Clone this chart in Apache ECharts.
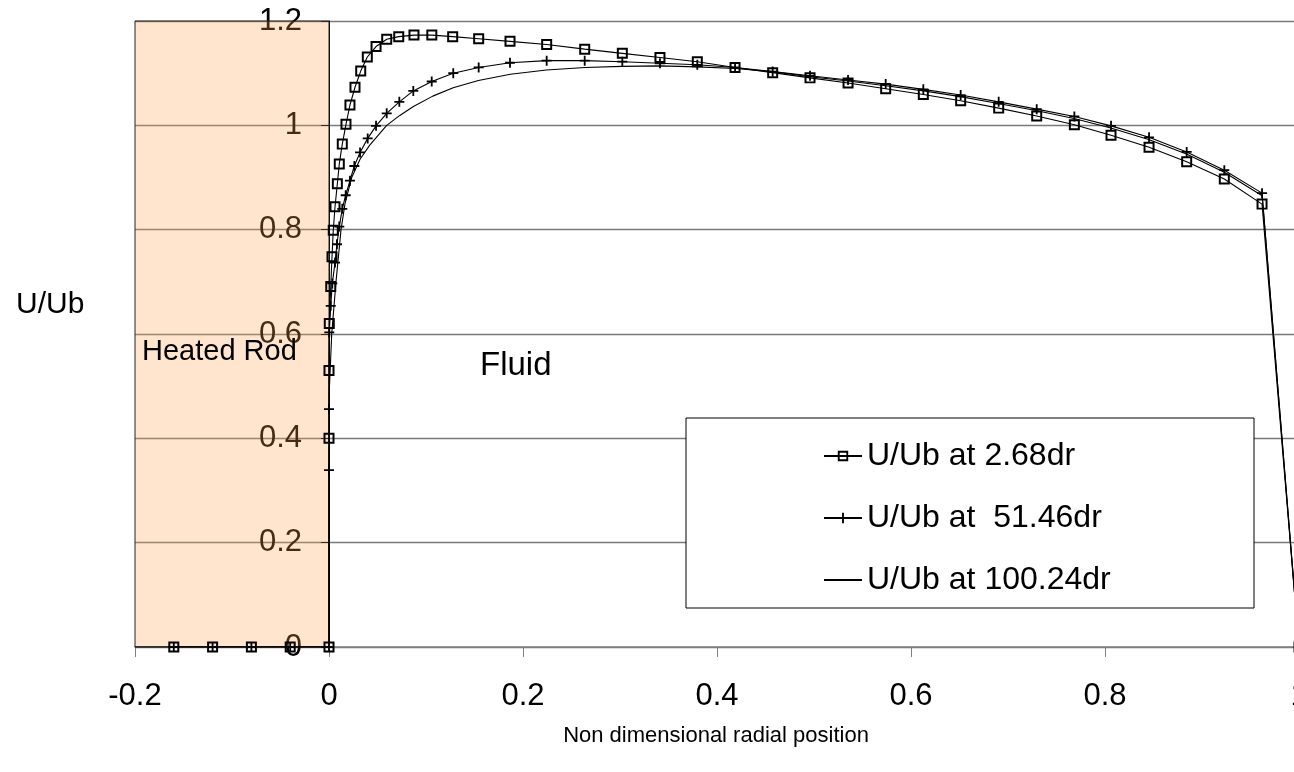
<!DOCTYPE html>
<html>
<head>
<meta charset="utf-8">
<script src="https://cdn.jsdelivr.net/npm/echarts@6/dist/echarts.min.js"></script>
<style>
  html, body { margin: 0; padding: 0; background: #fff; overflow: hidden; }
  #chart { width: 1294px; height: 772px; }
</style>
</head>
<body>
<div id="chart"></div>
<script>
// Velocity profiles U/Ub across the annulus, three axial stations
const xTicks = { min: -0.2, max: 1.0, step: 0.2 };
const yTicks = { min: 0, max: 1.2, step: 0.2 };
const rodRange = [-0.2, 0];   // solid heated rod region (x from, x to)

const seriesNames = ['U/Ub at 2.68dr', 'U/Ub at  51.46dr', 'U/Ub at 100.24dr'];

// station 2.68dr
const x268 = [-0.16, -0.12, -0.08, -0.04, 0, 0, 0, 0.0003, 0.0018, 0.0031, 0.0044, 0.0062, 0.0086, 0.0106,
  0.0137, 0.0175, 0.0216, 0.0268, 0.0327, 0.0395, 0.0485, 0.0595, 0.0719, 0.0876, 0.106, 0.1275, 0.1543,
  0.1866, 0.2244, 0.2636, 0.3024, 0.3412, 0.3797, 0.4186, 0.4574, 0.4959, 0.5351, 0.5739, 0.6127, 0.6512,
  0.6904, 0.7296, 0.7684, 0.8062, 0.8454, 0.8842, 0.9230, 0.9619, 1.0];
const u268 = [0, 0, 0, 0, 0, 0.40, 0.53, 0.62, 0.691, 0.748, 0.799, 0.844, 0.888, 0.926,
  0.964, 1.002, 1.039, 1.073, 1.104, 1.131, 1.151, 1.165, 1.170, 1.173, 1.173, 1.170, 1.166,
  1.161, 1.155, 1.146, 1.138, 1.130, 1.122, 1.111, 1.101, 1.091, 1.081, 1.070, 1.059, 1.047,
  1.033, 1.018, 1.001, 0.981, 0.958, 0.930, 0.897, 0.849, 0];

// station 51.46dr
const x5146 = [-0.16, -0.12, -0.08, -0.04, 0, 0, 0, 0.0003, 0.0018, 0.0034, 0.0062, 0.0082, 0.0106, 0.0137,
  0.0172, 0.0216, 0.0261, 0.0320, 0.0399, 0.0485, 0.0595, 0.0725, 0.0869, 0.1059, 0.1281, 0.1543,
  0.1866, 0.2244, 0.2636, 0.3024, 0.3412, 0.3797, 0.4186, 0.4574, 0.4959, 0.5351, 0.5739, 0.6127, 0.6512,
  0.6904, 0.7296, 0.7684, 0.8062, 0.8454, 0.8842, 0.9230, 0.9619, 1.0];
const u5146 = [0, 0, 0, 0, 0, 0.339, 0.456, 0.603, 0.654, 0.697, 0.737, 0.772, 0.806, 0.840,
  0.866, 0.894, 0.922, 0.948, 0.975, 0.999, 1.023, 1.045, 1.066, 1.084, 1.100, 1.111,
  1.120, 1.124, 1.124, 1.122, 1.119, 1.116, 1.111, 1.103, 1.095, 1.087, 1.079, 1.069, 1.058,
  1.045, 1.031, 1.017, 0.999, 0.977, 0.949, 0.914, 0.870, 0];

// station 100.24dr
const x10024 = [-0.2, 0, 0, 0.0005, 0.0028, 0.0072, 0.0124, 0.0165, 0.0234, 0.032, 0.042, 0.0595, 0.073, 0.087,
  0.107, 0.128, 0.154, 0.187, 0.224, 0.264, 0.302, 0.341, 0.380, 0.419, 0.457, 0.496, 0.535, 0.574, 0.613,
  0.651, 0.690, 0.730, 0.768, 0.806, 0.845, 0.884, 0.923, 0.962, 1.0];
const u10024 = [0, 0, 0.3, 0.5, 0.6, 0.7, 0.8, 0.85, 0.9, 0.935, 0.962, 1.0, 1.019, 1.036,
  1.056, 1.072, 1.086, 1.098, 1.106, 1.111, 1.113, 1.114, 1.112, 1.109, 1.103, 1.093, 1.085, 1.076, 1.066,
  1.055, 1.042, 1.028, 1.013, 0.995, 0.973, 0.945, 0.910, 0.865, 0];

const pairs = (xs, ys) => xs.map((x, i) => [x, ys[i]]);

const FONT = '"Liberation Sans", Arial, sans-serif';
const squareSymbol = 'path://M0,0H10V10H0Z M1.8,1.8V8.2H8.2V1.8Z';
const plusSymbol = 'path://M4.1,0H5.9V4.1H10V5.9H5.9V10H4.1V5.9H0V4.1H4.1Z';

const chart = echarts.init(document.getElementById('chart'), null, { renderer: 'canvas' });

chart.setOption({
  backgroundColor: '#ffffff',
  animation: false,
  // the x = 1 end of the plot runs just past the right edge of the page
  grid: { left: 135, right: -5, top: 21, bottom: 125, containLabel: false, outerBoundsMode: 'none' },
  xAxis: {
    type: 'value',
    min: xTicks.min, max: xTicks.max, interval: xTicks.step,
    axisLine: { show: true, lineStyle: { color: '#808080', width: 1.5 } },
    axisTick: { show: true, length: 10, lineStyle: { color: '#808080', width: 1 } },
    axisLabel: { fontFamily: FONT, fontSize: 31, color: '#000', margin: 34 },
    splitLine: { show: false }
  },
  yAxis: {
    type: 'value',
    min: yTicks.min, max: yTicks.max, interval: yTicks.step,
    position: 'left',
    offset: -194,   // vertical axis drawn at x = 0 (the rod surface)
    axisLine: { show: true, onZero: false, lineStyle: { color: '#000', width: 1 } },
    axisTick: { show: true, length: 8, lineStyle: { color: '#000', width: 1 } },
    axisLabel: { fontFamily: FONT, fontSize: 31, color: '#000', margin: 27 },
    splitLine: { show: true, lineStyle: { color: '#7a7a7a', width: 1.3 } }
  },
  legend: {
    orient: 'vertical',
    left: 818, top: 433,
    itemWidth: 38, itemHeight: 13, itemGap: 26,
    textStyle: { fontFamily: FONT, fontSize: 32, color: '#000', lineHeight: 36 },
    data: [
      { name: seriesNames[0] },
      { name: seriesNames[1] },
      { name: seriesNames[2], itemStyle: { opacity: 0 } }
    ],
    z: 6
  },
  graphic: [
    { type: 'rect', z: 5, shape: { x: 686, y: 418, width: 568, height: 190 },
      style: { fill: '#fff', stroke: '#000', lineWidth: 1 } },
    { type: 'text', z: 10, x: 16, y: 305,
      style: { text: 'U/Ub', font: '30px ' + FONT, fill: '#000', verticalAlign: 'middle' } },
    { type: 'text', z: 10, x: 142, y: 352,
      style: { text: 'Heated Rod', font: '29px ' + FONT, fill: '#000', verticalAlign: 'middle' } },
    { type: 'text', z: 10, x: 480, y: 366,
      style: { text: 'Fluid', font: '33px ' + FONT, fill: '#000', verticalAlign: 'middle' } },
    { type: 'text', z: 10, x: 716, y: 736,
      style: { text: 'Non dimensional radial position', font: '22px ' + FONT, fill: '#000',
               align: 'center', verticalAlign: 'middle' } }
  ],
  series: [
    {
      name: seriesNames[2],
      type: 'line',
      data: pairs(x10024, u10024),
      showSymbol: false, symbol: 'none',
      lineStyle: { color: '#000', width: 1.1 },
      itemStyle: { color: '#000' },
      z: 2,
      markArea: {
        silent: true,
        z: 1,
        itemStyle: { color: 'rgba(255,160,70,0.27)', borderColor: '#222', borderWidth: 1 },
        data: [[{ coord: [rodRange[0], yTicks.min] }, { coord: [rodRange[1], yTicks.max] }]]
      }
    },
    {
      name: seriesNames[1],
      type: 'line',
      data: pairs(x5146, u5146),
      symbol: plusSymbol, symbolSize: 10,
      lineStyle: { color: '#000', width: 1.1 },
      itemStyle: { color: '#000' },
      z: 3
    },
    {
      name: seriesNames[0],
      type: 'line',
      data: pairs(x268, u268),
      symbol: squareSymbol, symbolSize: 11,
      lineStyle: { color: '#000', width: 1.1 },
      itemStyle: { color: '#000' },
      z: 4
    }
  ]
});
</script>
</body>
</html>
